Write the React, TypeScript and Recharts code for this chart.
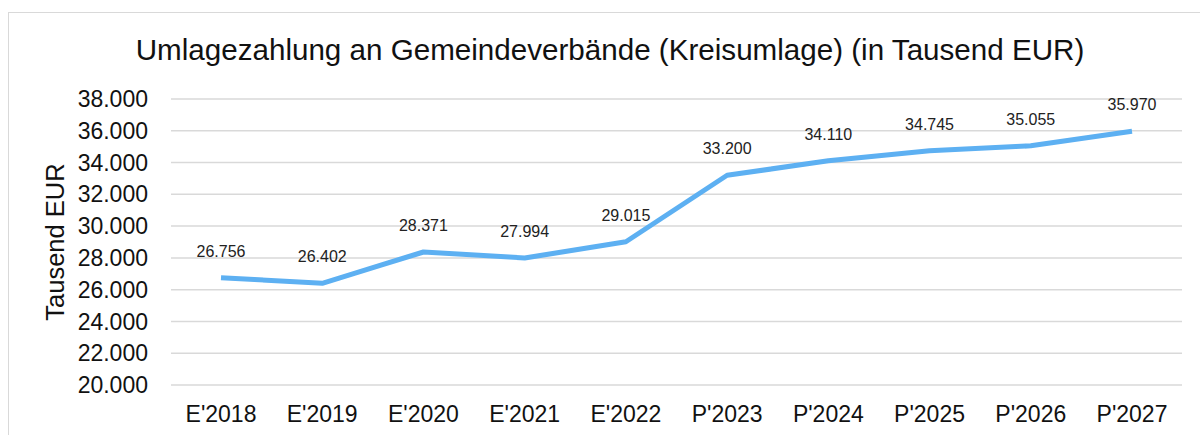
import { CartesianGrid, LabelList, Line, LineChart, XAxis, YAxis } from "recharts";

const YEARS = ["E'2018", "E'2019", "E'2020", "E'2021", "E'2022", "P'2023", "P'2024", "P'2025", "P'2026", "P'2027"];
const KREISUMLAGE = [26756, 26402, 28371, 27994, 29015, 33200, 34110, 34745, 35055, 35970];
const Y_TICKS = [20000, 22000, 24000, 26000, 28000, 30000, 32000, 34000, 36000, 38000];

const FONT = "'Liberation Sans', Arial, sans-serif";
const LINE_COLOR = "#5DB0F2";

// German thousands separator: 38000 -> "38.000"
const fmt = (n: number) => String(n).replace(/\B(?=(\d{3})+(?!\d))/g, ".");

const data = YEARS.map((year, i) => ({ year, value: KREISUMLAGE[i] }));

function PointLabel(props: any) {
  const x = props.x ?? props.viewBox?.x;
  const y = props.y ?? props.viewBox?.y;
  return (
    <text x={x} y={y - 21} textAnchor="middle" fontSize={16} fill="#222" fontFamily={FONT}>
      {fmt(props.value)}
    </text>
  );
}

function AxisTitle(props: any) {
  const vb = props.viewBox || {};
  const cy = vb.y + vb.height / 2;
  const x = 55;
  return (
    <text
      x={x}
      y={cy}
      transform={`rotate(-90, ${x}, ${cy})`}
      textAnchor="middle"
      fontSize={25.5}
      fill="#111"
      fontFamily={FONT}
    >
      Tausend EUR
    </text>
  );
}

export default function App() {
  return (
    <div
      style={{
        position: "fixed",
        left: 8,
        top: 12,
        width: 1192,
        height: 423,
        borderLeft: "1px solid #d9d9d9",
        borderTop: "1px solid #d9d9d9",
        boxSizing: "border-box",
        overflow: "hidden",
        background: "#fff",
        fontFamily: FONT,
      }}
    >
      <div
        style={{
          position: "absolute",
          left: 0,
          top: 22,
          width: 1202,
          textAlign: "center",
          fontSize: 29.6,
          lineHeight: "29px",
          color: "#111",
          whiteSpace: "nowrap",
        }}
      >
        Umlagezahlung an Gemeindeverbände (Kreisumlage) (in Tausend EUR)
      </div>
      <LineChart
        width={1191}
        height={422}
        data={data}
        margin={{ top: 86, right: 18, bottom: 10, left: 22 }}
      >
        <CartesianGrid vertical={false} stroke="#d9d9d9" strokeWidth={1.5} />
        <XAxis
          dataKey="year"
          axisLine={false}
          tickLine={false}
          tickSize={0}
          tickMargin={21}
          height={40}
          padding={{ left: 50, right: 50 }}
          interval={0}
          tick={{ fontSize: 23, fill: "#111", fontFamily: FONT }}
        />
        <YAxis
          width={140}
          domain={[20000, 38000]}
          ticks={Y_TICKS}
          interval={0}
          axisLine={false}
          tickLine={false}
          tickSize={0}
          tickMargin={23}
          tickFormatter={fmt}
          tick={{ fontSize: 23, fill: "#111", fontFamily: FONT }}
          label={{ content: AxisTitle }}
        />
        <Line
          type="linear"
          dataKey="value"
          stroke={LINE_COLOR}
          strokeWidth={5}
          strokeLinejoin="round"
          dot={false}
          isAnimationActive={false}
        >
          <LabelList dataKey="value" content={PointLabel} />
        </Line>
      </LineChart>
    </div>
  );
}
